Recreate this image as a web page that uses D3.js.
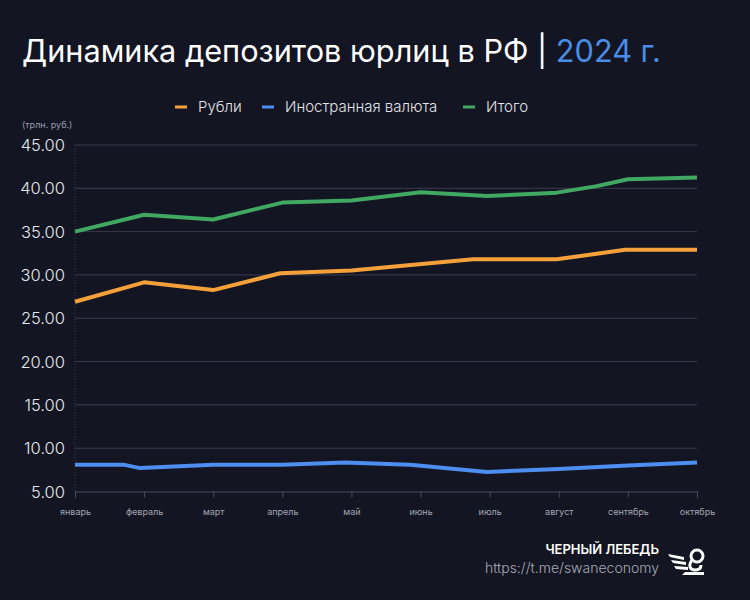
<!DOCTYPE html>
<html><head><meta charset="utf-8">
<script src="https://cdn.jsdelivr.net/npm/d3@7"></script>
<style>
html,body{margin:0;padding:0;background:#131522;}
svg{display:block;font-family:Inter,"Noto Sans",sans-serif;}
</style></head>
<body><svg id="c" width="750" height="600"></svg>
<script>
const months = ["январь","февраль","март","апрель","май","июнь","июль","август","сентябрь","октябрь"];
const yTicks = [5,10,15,20,25,30,35,40,45];
// [month index (fractional where the point falls between months), value, трлн руб.]
const rubX = [0,1,2,2.97,4,5.76,6.97,7.96,9];
const rubY = [26.9,29.15,28.25,30.2,30.5,31.8,31.8,32.9,32.9];
const fxX = [0,0.7,0.94,2,3,3.9,4.85,5.96,7,8,9];
const fxY = [8.1,8.1,7.7,8.1,8.1,8.35,8.1,7.25,7.6,8.0,8.35];
const totX = [0,1,2,3,4,5,5.96,6.97,7.55,8,9];
const totY = [35.0,36.95,36.4,38.35,38.6,39.55,39.1,39.5,40.25,41.05,41.25];
const seriesNames = ["Рубли","Иностранная валюта","Итого"];
const colors = ["#f6a03a","#4d8ef0","#41a862"];

const svg = d3.select("#c");
svg.append("rect").attr("width",750).attr("height",600).attr("fill","#131522");

const x = d3.scaleLinear().domain([0,9]).range([75,697]);
const y = d3.scaleLinear().domain([5,45]).range([491.5,145]);

// title
const t = svg.append("text").attr("x",22).attr("y",62).attr("font-size",30.7).attr("font-weight",400).attr("fill","#ffffff");
t.append("tspan").text("Динамика депозитов юрлиц в РФ | ");
t.append("tspan").attr("fill","#4a8de6").text("2024 г.");

// legend
const legX = [175,262,463];
seriesNames.forEach((n,i)=>{
  svg.append("line").attr("x1",legX[i]).attr("x2",legX[i]+12).attr("y1",107).attr("y2",107)
    .attr("stroke",colors[i]).attr("stroke-width",3);
  svg.append("text").attr("x",legX[i]+23).attr("y",112).attr("font-size",15).attr("font-weight",300).attr("fill","#e2e3e8").text(n);
});
svg.append("text").attr("x",22).attr("y",128).attr("font-size",9).attr("fill","#9a9cab").text("(трлн. руб.)");

// grid
svg.append("g").selectAll("line").data(yTicks.filter(d=>d>5)).join("line")
  .attr("x1",75).attr("x2",697).attr("y1",d=>y(d)).attr("y2",d=>y(d))
  .attr("stroke","#3a3c4c").attr("stroke-width",1);
// y labels
svg.append("g").selectAll("text").data(yTicks).join("text")
  .attr("x",65).attr("y",d=>y(d)+6).attr("text-anchor","end").attr("font-size",16.5).attr("font-weight",300)
  .attr("fill","#e6e7ec").text(d=>d.toFixed(2));
// left dotted axis
svg.append("line").attr("x1",75).attr("x2",75).attr("y1",145).attr("y2",491.5)
  .attr("stroke","#3a3c4c").attr("stroke-dasharray","1,2");
// bottom axis
const xa = d3.axisBottom(x).tickValues(d3.range(10)).tickSize(6).tickFormat(i=>months[i]);
const gx = svg.append("g").attr("transform","translate(0,491.5)").call(xa);
gx.select(".domain").attr("stroke","#4a4c5c");
gx.selectAll(".tick line").attr("stroke","#4a4c5c");
gx.selectAll(".tick text").attr("fill","#a4a6b2").attr("font-size",9).attr("dy","1.6em").attr("font-family","Inter,sans-serif");

// lines
const line = d3.line().x(d=>x(d[0])).y(d=>y(d[1]));
const data = [d3.zip(rubX,rubY), d3.zip(fxX,fxY), d3.zip(totX,totY)];
data.forEach((d,i)=>{
  svg.append("path").datum(d).attr("d",line).attr("fill","none")
    .attr("stroke",colors[i]).attr("stroke-width",4).attr("stroke-linejoin","round");
});

// footer
svg.append("text").attr("x",659).attr("y",554).attr("text-anchor","end").attr("font-size",13)
  .attr("font-weight",600).attr("fill","#ffffff").text("ЧЕРНЫЙ ЛЕБЕДЬ");
svg.append("text").attr("x",659).attr("y",573).attr("text-anchor","end").attr("font-size",14)
  .attr("font-weight",300).attr("fill","#a9abb8").text("https://t.me/swaneconomy");
// logo (stylized swan)
const lg = svg.append("g").attr("transform","translate(668,548)").attr("fill","#ffffff").attr("stroke","none");
lg.append("path").attr("d","M0,6 L16,9 L16,12 L2,9 Z");
lg.append("path").attr("d","M3,12 L18,14 L18,17 L5,15 Z");
lg.append("path").attr("d","M6,18 L20,19 L20,22 L8,21 Z");
lg.append("path").attr("d","M17,24 L36,24 L36,27 L14,27 Z");
lg.append("circle").attr("cx",29).attr("cy",8).attr("r",6).attr("fill","none").attr("stroke","#fff").attr("stroke-width",3);
lg.append("path").attr("d","M24,12 C20,18 22,22 27,22 C31,22 33,20 33,17").attr("fill","none").attr("stroke","#fff").attr("stroke-width",3);
</script></body></html>
